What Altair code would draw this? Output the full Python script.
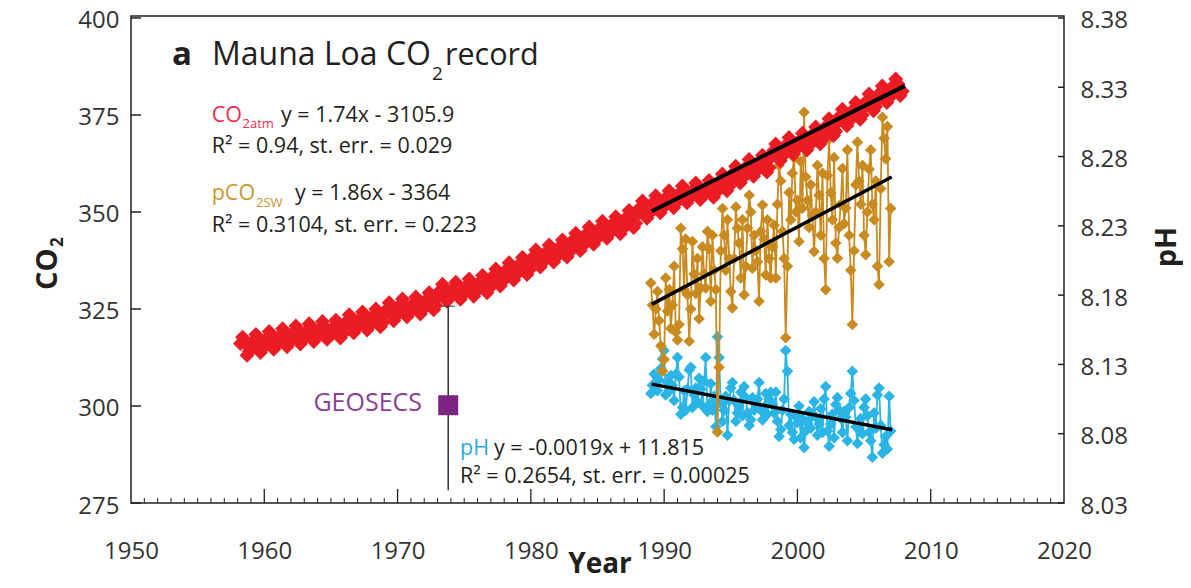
import altair as alt
import pandas as pd

# ---------------- data ----------------
CO2_YEARS = list(range(1958, 2008))
CO2_MONTH_FRACS = [0.04, 0.21, 0.37, 0.54, 0.71, 0.87]  # Jan Mar May Jul Sep Nov
CO2_ATM = [
    [None, 316.1, 317.7, 316.2, 313.1, 314.1],   # 1958
    [315.3, 316.8, 318.4, 316.9, 313.8, 314.8],
    [316.1, 317.6, 319.2, 317.7, 314.6, 315.6],
    [316.8, 318.3, 319.9, 318.4, 315.3, 316.3],
    [317.5, 319.0, 320.6, 319.1, 316.0, 317.0],
    [318.1, 319.6, 321.2, 319.7, 316.6, 317.6],
    [318.7, 320.2, 321.8, 320.3, 317.2, 318.2],
    [319.0, 320.5, 322.1, 320.6, 317.5, 318.5],
    [320.4, 321.9, 323.5, 322.0, 318.9, 319.9],
    [321.1, 322.6, 324.2, 322.7, 319.6, 320.6],
    [321.9, 323.4, 325.0, 323.5, 320.4, 321.4],
    [323.5, 325.0, 326.6, 325.1, 322.0, 323.0],
    [324.5, 326.0, 327.6, 326.1, 323.0, 324.0],   # 1970
    [324.9, 326.5, 328.1, 326.8, 323.7, 324.8],
    [326.0, 327.6, 329.2, 327.9, 324.8, 325.9],
    [328.2, 329.8, 331.4, 330.1, 327.0, 328.1],
    [328.7, 330.3, 331.9, 330.6, 327.5, 328.6],
    [329.5, 331.1, 332.7, 331.4, 328.3, 329.4],
    [330.4, 332.0, 333.6, 332.3, 329.2, 330.3],
    [332.1, 333.7, 335.3, 334.0, 330.9, 332.0],
    [333.7, 335.3, 336.9, 335.6, 332.5, 333.6],
    [335.1, 336.7, 338.3, 337.0, 333.9, 335.0],
    [337.0, 338.6, 340.2, 338.9, 335.8, 336.9],   # 1980
    [338.3, 339.9, 341.5, 340.2, 337.1, 338.2],
    [339.6, 341.2, 342.8, 341.5, 338.4, 339.5],
    [341.3, 342.9, 344.5, 343.2, 340.1, 341.2],
    [342.9, 344.5, 346.1, 344.8, 341.7, 342.8],
    [344.4, 346.0, 347.6, 346.3, 343.2, 344.3],
    [345.6, 347.2, 348.8, 347.5, 344.4, 345.5],
    [347.2, 348.8, 350.4, 349.1, 346.0, 347.1],
    [349.6, 351.2, 352.8, 351.5, 348.4, 349.5],
    [351.0, 352.6, 354.2, 352.9, 349.8, 350.9],
    [352.3, 353.9, 355.5, 354.2, 351.1, 352.2],   # 1990
    [353.4, 355.0, 356.7, 355.4, 352.4, 353.5],
    [354.2, 355.8, 357.5, 356.2, 353.2, 354.3],
    [354.8, 356.4, 358.1, 356.8, 353.8, 354.9],
    [356.5, 358.1, 359.8, 358.5, 355.5, 356.6],
    [358.5, 360.1, 361.8, 360.5, 357.5, 358.6],
    [360.2, 361.8, 363.5, 362.2, 359.2, 360.3],
    [361.3, 362.9, 364.6, 363.3, 360.3, 361.4],
    [364.2, 365.8, 367.5, 366.2, 363.2, 364.3],
    [365.9, 367.5, 369.2, 367.9, 364.9, 366.0],
    [367.0, 368.6, 370.3, 369.0, 366.0, 367.1],   # 2000
    [368.6, 370.2, 371.9, 370.6, 367.6, 368.7],
    [370.7, 372.3, 374.0, 372.7, 369.7, 370.8],
    [373.2, 374.8, 376.5, 375.2, 372.2, 373.3],
    [374.9, 376.5, 378.2, 376.9, 373.9, 375.0],
    [377.1, 378.7, 380.4, 379.1, 376.1, 377.2],
    [379.2, 380.8, 382.5, 381.2, 378.2, 379.3],
    [381.0, 382.6, 384.3, 383.0, 380.0, 381.1],   # 2007
]

HOT_YEARS = list(range(1989, 2007))
HOT_FRACS = [0.0, 0.12, 0.25, 0.38, 0.5, 0.62, 0.75, 0.88]
HOT_LAST_YEAR = 2007.0
PCO2_SW = [
    [331.7, 326.0, 318.5, 325.0, 329.5, 322.0, 315.5, 309.0],
    [312.0, 333.0, 324.5, 330.0, 320.0, 326.0, 336.0, 319.0],
    [317.0, 321.0, 345.8, 340.5, 330.0, 343.0, 328.7, 316.7],
    [325.0, 342.4, 334.0, 329.0, 338.0, 322.5, 330.4, 341.0],
    [334.0, 330.4, 345.0, 340.5, 327.0, 344.0, 335.0, 330.0],
    [293.3, 310.0, 340.0, 350.9, 344.0, 335.0, 348.0, 338.0],
    [329.5, 325.3, 338.0, 351.3, 345.8, 342.0, 333.0, 348.0],
    [328.7, 336.0, 345.8, 354.3, 350.0, 335.5, 344.0, 340.0],
    [337.2, 327.0, 345.0, 351.8, 343.0, 333.8, 348.0, 338.0],
    [333.0, 341.0, 346.6, 333.0, 352.0, 362.0, 358.0, 345.0],
    [338.0, 317.6, 336.0, 355.0, 348.0, 360.0, 364.0, 350.0],
    [353.0, 342.4, 363.0, 351.0, 375.7, 359.0, 353.0, 346.0],
    [357.0, 349.0, 339.8, 350.0, 362.0, 354.3, 344.0, 360.0],
    [338.0, 330.0, 359.4, 368.8, 355.0, 348.0, 364.0, 342.0],
    [338.1, 346.0, 352.0, 361.2, 347.0, 351.0, 366.0, 344.0],
    [335.0, 321.0, 340.0, 357.0, 368.0, 358.0, 352.0, 362.0],
    [344.0, 339.0, 350.0, 361.0, 366.0, 352.0, 348.0, 358.0],
    [336.0, 331.3, 356.0, 374.4, 369.0, 363.7, 372.0, 337.2],
]
PCO2_SW_LAST = 350.9
PH_SW = [
    [8.109, 8.115, 8.123, 8.116, 8.111, 8.119, 8.127, 8.134],
    [8.140, 8.108, 8.117, 8.111, 8.122, 8.115, 8.104, 8.123],
    [8.135, 8.121, 8.094, 8.099, 8.111, 8.097, 8.112, 8.126],
    [8.128, 8.099, 8.108, 8.113, 8.103, 8.120, 8.112, 8.100],
    [8.118, 8.135, 8.096, 8.101, 8.116, 8.097, 8.107, 8.085],
    [8.150, 8.135, 8.102, 8.089, 8.097, 8.107, 8.079, 8.104],
    [8.113, 8.117, 8.104, 8.089, 8.095, 8.100, 8.110, 8.093],
    [8.114, 8.106, 8.095, 8.086, 8.090, 8.106, 8.097, 8.101],
    [8.105, 8.117, 8.097, 8.090, 8.099, 8.109, 8.094, 8.105],
    [8.110, 8.101, 8.095, 8.110, 8.089, 8.078, 8.083, 8.097],
    [8.105, 8.140, 8.125, 8.086, 8.094, 8.081, 8.076, 8.092],
    [8.088, 8.100, 8.077, 8.091, 8.070, 8.082, 8.088, 8.096],
    [8.084, 8.093, 8.103, 8.092, 8.079, 8.087, 8.098, 8.081],
    [8.105, 8.114, 8.082, 8.071, 8.087, 8.094, 8.077, 8.101],
    [8.106, 8.097, 8.091, 8.081, 8.096, 8.092, 8.075, 8.099],
    [8.109, 8.125, 8.104, 8.085, 8.073, 8.084, 8.091, 8.080],
    [8.099, 8.105, 8.093, 8.081, 8.075, 8.063, 8.095, 8.084],
    [8.108, 8.113, 8.086, 8.066, 8.072, 8.078, 8.069, 8.107],
]
PH_SW_LAST = 8.082

# regression lines as drawn (end points)
TREND_ATM_YEARS = [1989.06, 2008.07]
TREND_ATM = [350.2, 382.5]
TREND_SW_YEARS = [1989.06, 2007.07]
TREND_SW = [326.2, 359.0]
TREND_PH_YEARS = [1989.06, 2007.1]
TREND_PH = [8.1158, 8.0829]

# GEOSECS point with error bar
GEOSECS_YEAR = [1973.8]
GEOSECS_CO2 = [300.2]
GEOSECS_HI = [325.7]
GEOSECS_LO = [278.3]

YEAR_TICKS = list(range(1950, 2030, 10))
YEAR_MAJOR_INNER = list(range(1960, 2020, 10))
YEAR_MINOR = [y for y in range(1951, 2020) if y % 10 != 0]
CO2_TICKS = [275, 300, 325, 350, 375, 400]
PH_TICKS = [8.03, 8.08, 8.13, 8.18, 8.23, 8.28, 8.33, 8.38]

# ---------------- tables ----------------
red_rows = []
for yr, row in zip(CO2_YEARS, CO2_ATM):
    for f, v in zip(CO2_MONTH_FRACS, row):
        if v is not None:
            red_rows.append({"t": yr + f, "v": v})
red_df = pd.DataFrame(red_rows)

hot_rows = []
for yr, prow, hrow in zip(HOT_YEARS, PCO2_SW, PH_SW):
    for f, p, h in zip(HOT_FRACS, prow, hrow):
        hot_rows.append({"t": yr + f, "p": p, "ph": h})
hot_rows.append({"t": HOT_LAST_YEAR, "p": PCO2_SW_LAST, "ph": PH_SW_LAST})
hot_df = pd.DataFrame(hot_rows)

tr_atm = pd.DataFrame({"t": TREND_ATM_YEARS, "v": TREND_ATM})
tr_sw = pd.DataFrame({"t": TREND_SW_YEARS, "v": TREND_SW})
tr_ph = pd.DataFrame({"t": TREND_PH_YEARS, "v": TREND_PH})
geo_df = pd.DataFrame({"t": GEOSECS_YEAR, "v": GEOSECS_CO2, "hi": GEOSECS_HI, "lo": GEOSECS_LO})

# ---------------- styling ----------------
W, H = 933, 487
DY = -3  # text shift (plot top moved down by 3 px)
RED = "#ec1c24"
GOLD = "#c98a1f"
CYAN = "#2bb4e6"
PURPLE = "#7b2482"
INK = "#231f20"
FONT = "Open Sans"

xscale = alt.Scale(domain=[1950, 2020], nice=False, zero=False)
co2scale = alt.Scale(domain=[275, 400.51], nice=False, zero=False)
phscale = alt.Scale(domain=[8.03, 8.38143], nice=False, zero=False)

xaxis = alt.Axis(values=YEAR_TICKS, format="d", ticks=False, domain=False, grid=False,
                 labelFontSize=24, labelFont=FONT, labelColor="#333", labelPadding=36,
                 labelFlush=False, labelOverlap=False, title=None)
co2axis = alt.Axis(orient="left", values=CO2_TICKS, format="d", ticks=False, domain=False, grid=False,
                   labelFontSize=24, labelFont=FONT, labelColor="#333", labelPadding=12,
                   labelOffset=3, labelOverlap=False, labelFlush=False, title=None)
phaxis = alt.Axis(orient="right", values=PH_TICKS, format=".2f", ticks=False, domain=False, grid=False,
                  labelFontSize=24, labelFont=FONT, labelColor="#333", labelPadding=16,
                  labelOffset=3, labelOverlap=False, labelFlush=False, title=None)


def X(f):
    return alt.X(f, type="quantitative", scale=xscale, axis=xaxis)


def YC(f):
    return alt.Y(f, type="quantitative", scale=co2scale, axis=co2axis)


def YP(f):
    return alt.Y(f, type="quantitative", scale=phscale, axis=phaxis)


def txt(s, x, y, size, color=INK, weight="normal", align="left", baseline="alphabetic", angle=0):
    return alt.Chart(pd.DataFrame({"s": [s]})).mark_text(
        font=FONT, fontSize=size, fontWeight=weight, color=color, align=align,
        baseline=baseline, angle=angle
    ).encode(x=alt.value(x), y=alt.value(y + DY), text="s:N")


# ---------------- pH group (right axis) ----------------
cyan_line = alt.Chart(hot_df).mark_line(color=CYAN, strokeWidth=1.8).encode(x=X("t"), y=YP("ph"))
cyan_pts = alt.Chart(hot_df).mark_point(shape="diamond", filled=True, size=135, color=CYAN, opacity=1).encode(
    x=X("t"), y=YP("ph"))
ph_trend = alt.Chart(tr_ph).mark_line(color="black", strokeWidth=3.5).encode(x=X("t"), y=YP("v"))
ph_ticks = alt.Chart(pd.DataFrame({"v": PH_TICKS})).mark_rule(color=INK, strokeWidth=1.5).encode(
    x=alt.value(W - 6), x2=alt.value(W), y=YP("v"))
ph_group = alt.layer(cyan_line, cyan_pts, ph_ticks, ph_trend)

# ---------------- CO2 group (left axis) ----------------
gold_line = alt.Chart(hot_df).mark_line(color=GOLD, strokeWidth=1.8).encode(x=X("t"), y=YC("p"))
gold_pts = alt.Chart(hot_df).mark_point(shape="diamond", filled=True, size=135, color=GOLD, opacity=1).encode(
    x=X("t"), y=YC("p"))
red_pts = alt.Chart(red_df).mark_point(shape="diamond", filled=True, size=225, color=RED, opacity=1).encode(
    x=X("t"), y=YC("v"))
atm_trend = alt.Chart(tr_atm).mark_line(color="black", strokeWidth=4).encode(x=X("t"), y=YC("v"))
sw_trend = alt.Chart(tr_sw).mark_line(color="black", strokeWidth=3.5).encode(x=X("t"), y=YC("v"))

geo_bar = alt.Chart(geo_df).mark_rule(color="#333", strokeWidth=1.5).encode(
    x=X("t"), y=YC("lo"), y2=alt.Y2("hi"))
geo_cap = alt.Chart(geo_df).mark_tick(orient="horizontal", size=13, thickness=1.5, color="#333").encode(
    x=X("t"), y=YC("hi"))
geo_sq = alt.Chart(geo_df).mark_square(size=400, color=PURPLE, opacity=1, filled=True).encode(
    x=X("t"), y=YC("v"))

left_ticks = alt.Chart(pd.DataFrame({"v": CO2_TICKS})).mark_rule(color=INK, strokeWidth=1.5).encode(
    x=alt.value(0), x2=alt.value(10), y=YC("v"))
major_ticks = alt.Chart(pd.DataFrame({"t": YEAR_MAJOR_INNER})).mark_rule(color=INK, strokeWidth=1.3).encode(
    x=X("t"), y=alt.value(H), y2=alt.value(H - 14))
minor_ticks = alt.Chart(pd.DataFrame({"t": YEAR_MINOR})).mark_rule(color=INK, strokeWidth=1).encode(
    x=X("t"), y=alt.value(H), y2=alt.value(H - 5))

texts = [
    txt("a", 41, 52, 33, weight="bold"),
    txt("Mauna Loa CO", 81, 52, 32),
    txt("2", 301, 67, 19),
    txt("record", 314, 52, 30.5),
    txt("CO", 80.7, 108.7, 21.5, color="#ee2e4f"),
    txt("2atm", 111.5, 114.5, 13, color="#ee2e4f"),
    txt("y = 1.74x - 3105.9", 150, 108.7, 21.5),
    txt("R² = 0.94, st. err. = 0.029", 80.7, 140, 21.5),
    txt("pCO", 80.7, 187, 21.5, color="#c9962e"),
    txt("2SW", 125, 193.5, 13, color="#c9962e"),
    txt("y = 1.86x - 3364", 164, 187, 21.5),
    txt("R² = 0.3104, st. err. = 0.223", 80.7, 218.7, 21.5),
    txt("pH", 329, 442, 21.5, color="#29abe2"),
    txt("y = -0.0019x + 11.815", 363, 442, 21.5),
    txt("R² = 0.2654, st. err. = 0.00025", 329, 470, 21.5),
    txt("GEOSECS", 291, 390, 25, color="#8b3f98", align="right", baseline="middle"),
    txt("CO", -74, 277, 29, weight="bold", angle=270),
    txt("2", -68, 234, 17, weight="bold", angle=270),
    txt("pH", 1045, 234, 29, weight="bold", angle=270, align="center"),
    txt("Year", 469, 560, 28, weight="bold", align="center"),
]

co2_group = alt.layer(minor_ticks, major_ticks, left_ticks, gold_line, gold_pts, red_pts,
                      geo_bar, geo_cap, geo_sq, sw_trend, atm_trend, *texts)

chart = alt.layer(ph_group, co2_group).resolve_scale(y="independent").properties(
    width=W, height=H,
    autosize=alt.AutoSizeParams(type="none"),
    padding={"left": 123, "top": 8, "right": 119, "bottom": 77},
).configure_view(stroke=INK, strokeWidth=1.5)

chart.save("out.html", embed_options={"renderer": "svg", "actions": False})
